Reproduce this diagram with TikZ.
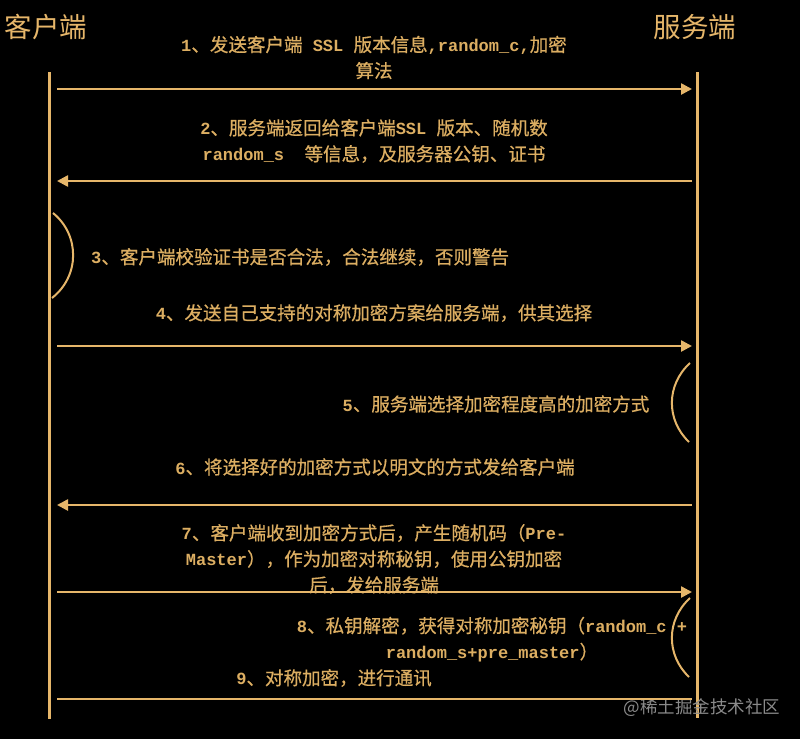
\documentclass[tikz,border=0pt]{standalone}
\usepackage{fontspec}
\setmainfont{Liberation Mono}[UprightFont=*-Bold]
\newfontfamily\cj{Noto Sans CJK SC}[Scale=1.09,FakeBold=0.6]
\newfontfamily\cjh{Noto Sans CJK SC}
\usetikzlibrary{arrows.meta}
\definecolor{gold}{HTML}{E6B66A}
\definecolor{goldtxt}{HTML}{DCAE62}
\definecolor{wmgray}{HTML}{8A8A8A}
\newcommand{\zh}[1]{{\cj #1}}
\begin{document}
\begin{tikzpicture}[x=1pt,y=-1pt,
 lab/.style={text=goldtxt,font=\fontsize{17}{26}\selectfont,align=center,inner sep=0pt},
 head/.style={text=gold,font=\cjh\fontsize{27.5}{30}\selectfont,inner sep=0pt},
 life/.style={draw=gold,line width=3pt},
 msg/.style={draw=gold,line width=2.5pt,-{Triangle[length=11pt,width=11pt]}},
 plainmsg/.style={draw=gold,line width=2.5pt},
 proc/.style={draw=gold,line width=2pt},
 wmark/.style={text=wmgray,font=\cjh\fontsize{17.5}{20}\selectfont,inner sep=0pt},
]
\fill[black] (0,0) rectangle (800,739);
\useasboundingbox (0,0) rectangle (800,739);

% headers
\node[head] (cli) at (46,27) {客户端};
\node[head] (srv) at (695,27) {服务端};

% lifelines
\coordinate (cT) at (49,72);
\coordinate (cB) at (49,719);
\coordinate (sT) at (697,72);
\coordinate (sB) at (697,718);
\draw[life] (cT) -- (cB);
\draw[life] (sT) -- (sB);

% labels
\node[lab] (t1) at (374,57.5) {1\zh{、发送客户端} SSL \zh{版本信息},random\_c,\zh{加密}\\\zh{算法}};
\node[lab] (t2) at (374,141) {2\zh{、服务端返回给客户端}SSL \zh{版本、随机数}\\random\_s\ \ \zh{等信息，及服务器公钥、证书}};
\node[lab,anchor=west] (t3) at (91,257) {3\zh{、客户端校验证书是否合法，合法继续，否则警告}};
\node[lab] (t4) at (374,313) {4\zh{、发送自己支持的对称加密方案给服务端，供其选择}};
\node[lab] (t5) at (496,404) {5\zh{、服务端选择加密程度高的加密方式}};
\node[lab] (t6) at (375,467) {6\zh{、将选择好的加密方式以明文的方式发给客户端}};
\node[lab] (t7) at (374,559) {7\zh{、客户端收到加密方式后，产生随机码（}Pre-\\Master\zh{），作为加密对称秘钥，使用公钥加密}\\\zh{后，发给服务端}};
\node[lab] (t8) at (492,639.5) {8\zh{、私钥解密，获得对称加密秘钥（}random\_c +\\random\_s+pre\_master\zh{）}};
\node[lab] (t9) at (334,678) {9\zh{、对称加密，进行通讯}};
\node[wmark] (wm) at (702,708) {@稀土掘金技术社区};

% messages
\coordinate (c1) at (57,89);   \coordinate (s1) at (692,89);
\coordinate (c2) at (57,181);  \coordinate (s2) at (692,181);
\coordinate (c4) at (57,346);  \coordinate (s4) at (692,346);
\coordinate (c6) at (57,505);  \coordinate (s6) at (692,505);
\coordinate (c7) at (57,592);  \coordinate (s7) at (692,592);
\coordinate (c9) at (57,699);  \coordinate (s9) at (692,699);
\draw[msg] (c1) -- (s1);
\draw[msg] (s2) -- (c2);
\draw[msg] (c4) -- (s4);
\draw[msg] (s6) -- (c6);
\draw[msg] (c7) -- (s7);
\draw[plainmsg] (c9) -- (s9);

% processing arcs
\coordinate (a3s) at (53,213); \coordinate (a3e) at (52,298);
\draw[proc] (a3s) .. controls (80,235) and (80,276) .. (a3e);
\coordinate (a5s) at (690,363); \coordinate (a5e) at (689,442);
\draw[proc] (a5s) .. controls (666,385) and (666,420) .. (a5e);
\coordinate (a8s) at (690,598); \coordinate (a8e) at (689,677);
\draw[proc] (a8s) .. controls (666,620) and (666,655) .. (a8e);
\end{tikzpicture}
\end{document}
